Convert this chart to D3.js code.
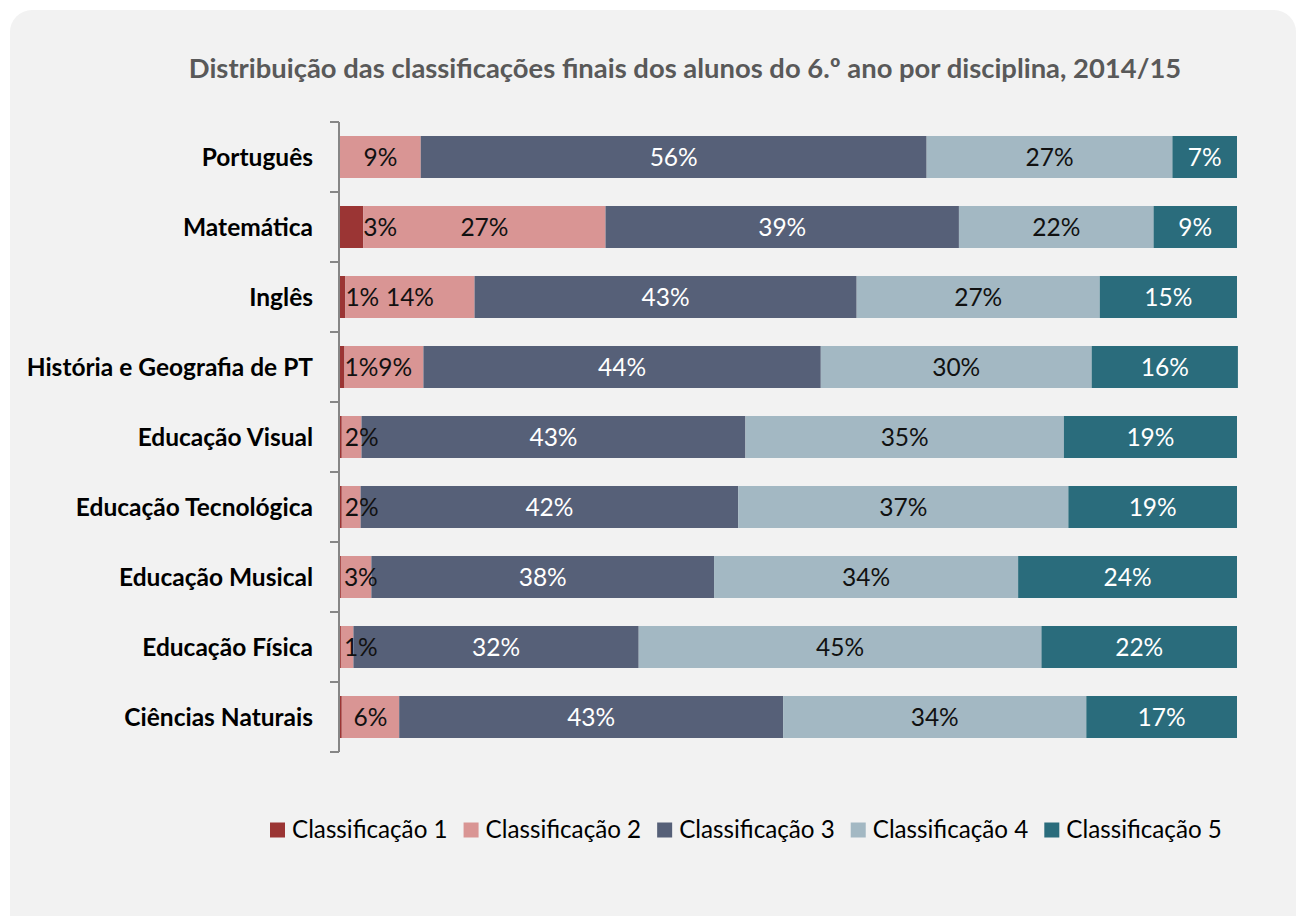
<!DOCTYPE html>
<html>
<head>
<meta charset="utf-8">
<script src="https://cdn.jsdelivr.net/npm/d3@7"></script>
<style>
  body { margin: 0; background: #fff; }
  svg { display: block; font-family: Lato, "Open Sans", sans-serif; }
</style>
</head>
<body>
<div id="view"></div>
<script>
var categories = ["Português", "Matemática", "Inglês", "História e Geografia de PT",
    "Educação Visual", "Educação Tecnológica", "Educação Musical", "Educação Física", "Ciências Naturais"];
var series = ["Classificação 1", "Classificação 2", "Classificação 3", "Classificação 4", "Classificação 5"];
var class1 = [0.0, 2.6, 0.6, 0.5, 0.2, 0.2, 0.1, 0.1, 0.2];
var class2 = [9.0, 27.0, 14.4, 8.8, 2.2, 2.1, 3.4, 1.4, 6.4];
var class3 = [56.4, 39.4, 42.6, 44.3, 42.8, 42.1, 38.2, 31.8, 42.8];
var class4 = [27.4, 21.7, 27.1, 30.2, 35.5, 36.8, 33.9, 44.9, 33.8];
var class5 = [7.2, 9.3, 15.3, 16.3, 19.3, 18.8, 24.4, 21.8, 16.8];
var colors = ["#9b3534", "#d99594", "#566078", "#a3b8c3", "#2a6c7c"];
var labelColors = ["#111", "#111", "#fff", "#111", "#fff"];

var W = 1298, H = 916;
var margin = {top: 122, right: 61, bottom: 164, left: 340},
    width = W - margin.left - margin.right,
    height = H - margin.top - margin.bottom;

var svg = d3.select("#view").append("svg")
    .attr("width", W)
    .attr("height", H);

svg.append("rect")
    .attr("x", 10).attr("y", 10)
    .attr("width", 1286).attr("height", 930)
    .attr("rx", 22).attr("ry", 22)
    .attr("fill", "#f2f2f2");

svg.append("text")
    .attr("x", 685).attr("y", 78)
    .attr("text-anchor", "middle")
    .attr("font-weight", "bold")
    .attr("font-size", 27.4)
    .attr("fill", "#595959")
    .text("Distribuição das classificações finais dos alunos do 6.º ano por disciplina, 2014/15");

var rows = categories.map(function(c, i) {
    return {cat: c, vals: [class1[i], class2[i], class3[i], class4[i], class5[i]]};
});
var stacked = d3.stack().keys([0, 1, 2, 3, 4]).value(function(d, k) { return d.vals[k]; })(rows);

var x = d3.scaleLinear().domain([0, 100]).range([0, width]);
var y = d3.scaleBand().domain(categories).range([0, height]).paddingInner(0.4).paddingOuter(0.2);

var g = svg.append("g").attr("transform", "translate(" + margin.left + "," + margin.top + ")");

var layer = g.selectAll(".layer")
    .data(stacked)
    .enter().append("g")
    .attr("class", "layer")
    .attr("fill", function(d, i) { return colors[i]; });

layer.selectAll("rect")
    .data(function(d) { return d; })
    .enter().append("rect")
    .attr("x", function(d) { return x(d[0]); })
    .attr("y", function(d) { return y(d.data.cat); })
    .attr("width", function(d) { return x(d[1]) - x(d[0]); })
    .attr("height", y.bandwidth());

// data labels, drawn above all the bars
var labels = g.append("g").attr("class", "labels");
rows.forEach(function(r, i) {
    var prevRight = -Infinity;
    stacked.forEach(function(s, k) {
        var p = s[i], v = p[1] - p[0];
        if (v < 0.5) return;
        var t = labels.append("text")
            .attr("y", y(r.cat) + y.bandwidth() / 2)
            .attr("dy", "0.35em")
            .attr("text-anchor", "middle")
            .attr("font-size", 24.5)
            .attr("fill", labelColors[k])
            .text(Math.round(v) + "%");
        var w = t.node().getComputedTextLength();
        var cx = (x(p[0]) + x(p[1])) / 2;
        if (k == 0) cx = Math.max(x(p[1]), x(p[0]) + 4) + w / 2;
        if (k == 1) cx = Math.max(cx, x(p[0]) + w / 2 + 3);
        if (cx - w / 2 < prevRight) cx = prevRight + w / 2;
        t.attr("x", cx);
        prevRight = cx + w / 2;
    });
});

// vertical axis with ticks between categories
var axis = g.append("g").attr("transform", "translate(-1,0)");
axis.append("line")
    .attr("y1", 0).attr("y2", height)
    .attr("stroke", "#868686").attr("stroke-width", 2);
axis.selectAll(".tick")
    .data(d3.range(categories.length + 1))
    .enter().append("line")
    .attr("x1", -9).attr("x2", 0)
    .attr("y1", function(i) { return i * y.step(); })
    .attr("y2", function(i) { return i * y.step(); })
    .attr("stroke", "#868686").attr("stroke-width", 2);

g.selectAll(".cat")
    .data(categories)
    .enter().append("text")
    .attr("x", -27)
    .attr("y", function(d) { return y(d) + y.bandwidth() / 2; })
    .attr("dy", "0.35em")
    .attr("text-anchor", "end")
    .attr("font-weight", "bold")
    .attr("font-size", 24.5)
    .attr("fill", "#000")
    .text(function(d) { return d; });

// legend
var legend = svg.append("g").attr("transform", "translate(270,830)");
var lx = 0;
series.forEach(function(s, i) {
    var item = legend.append("g").attr("transform", "translate(" + lx + ",0)");
    item.append("rect").attr("x", 0).attr("y", -7.5).attr("width", 15).attr("height", 15).attr("fill", colors[i]);
    var t = item.append("text").attr("x", 22).attr("dy", "0.35em")
        .attr("font-size", 24.2).attr("fill", "#000").text(s);
    lx += 22 + t.node().getComputedTextLength() + 16;
});
</script>
</body>
</html>
